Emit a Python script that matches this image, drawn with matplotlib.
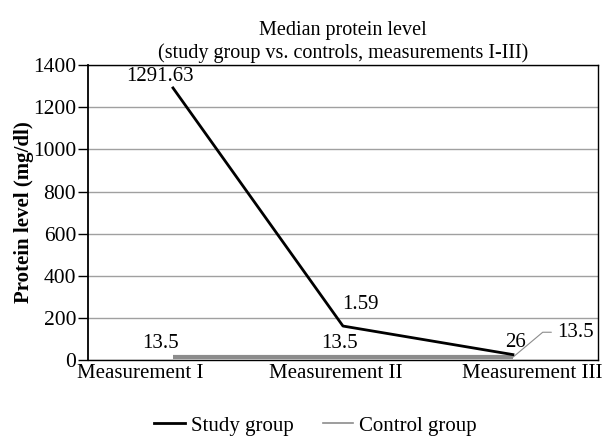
import matplotlib
matplotlib.use("Agg")
import matplotlib.pyplot as plt
from matplotlib.transforms import offset_copy
from matplotlib.lines import Line2D

plt.rcParams["font.family"] = ["Liberation Serif", "DejaVu Serif"]
plt.rcParams["font.size"] = 12

categories = ["Measurement I", "Measurement II", "Measurement III"]
study = [1291.63, 161.59, 26]
control = [13.5, 13.5, 13.5]
study_labels = ["1291.63", "1.59", "26"]
control_labels = ["13.5", "13.5", "13.5"]
yticks = [0, 200, 400, 600, 800, 1000, 1200, 1400]

fig = plt.figure(figsize=(6.07, 4.37), dpi=100)
ax = fig.add_axes([0.145, 0.176, 0.84, 0.675])

x = list(range(len(categories)))
ax.plot(x, control, color="#8c8c8c", lw=3, solid_capstyle="butt", label="Control group", zorder=3)
ax.plot(x, study, color="black", lw=2, label="Study group", zorder=4)

ax.set_xlim(-0.5, 2.5)
ax.set_ylim(0, 1400)
ax.set_yticks(yticks)
ax.yaxis.grid(True, color="#a0a0a0", lw=1)
ax.set_axisbelow(True)
for s in ax.spines.values():
    s.set_color("black")
    s.set_linewidth(1)
ax.spines["left"].set_linewidth(1.3)
ax.tick_params(axis="y", length=7, width=1, pad=1.5, labelsize=15.5)
ax.tick_params(axis="x", length=0, pad=3, labelsize=15)
ax.set_xticks(x)
ax.set_xticklabels(categories)
# excel-style label shifts
for lab, dx in zip(ax.get_xticklabels(), [-33, -7, 19]):
    lab.set_transform(offset_copy(lab.get_transform(), fig=fig, x=dx, y=0, units="dots"))

ax.set_ylabel("Protein level (mg/dl)", fontweight="bold", fontsize=15, labelpad=-0.5)
ax.set_title("Median protein level\n(study group vs. controls, measurements I-III)",
             fontsize=14.5, pad=5, linespacing=1.2)

# data labels
study_off = [(-13, 2), (17, 12), (3, 3)]
for xi, v, t, (dx, dy) in zip(x, study, study_labels, study_off):
    ax.annotate(t, (xi, v), xytext=(dx, dy), textcoords="offset pixels",
                ha="center", va="bottom", fontsize=15)
ctrl_off = [(-13, 4), (-3, 4)]
for xi, v, t, (dx, dy) in zip(x[:2], control[:2], control_labels[:2], ctrl_off):
    ax.annotate(t, (xi, v), xytext=(dx, dy), textcoords="offset pixels",
                ha="center", va="bottom", fontsize=15)
ax.annotate(control_labels[2], (x[2], control[2]), xytext=(44, 25), textcoords="offset pixels",
            ha="left", va="center", fontsize=15, annotation_clip=False,
            arrowprops=dict(arrowstyle="-", color="#8c8c8c", lw=0.8,
                            connectionstyle="angle,angleA=0,angleB=40,rad=0", shrinkA=2, shrinkB=0))

handles = [Line2D([], [], color="black", lw=2, label="Study group"),
           Line2D([], [], color="#8c8c8c", lw=1.2, label="Control group")]
fig.legend(handles=handles, loc="lower center", bbox_to_anchor=(0.52, -0.04),
           ncol=2, frameon=False, handlelength=1.45, handletextpad=0.3, columnspacing=1.4,
           fontsize=15)

fig.savefig("out.png", dpi=100)
